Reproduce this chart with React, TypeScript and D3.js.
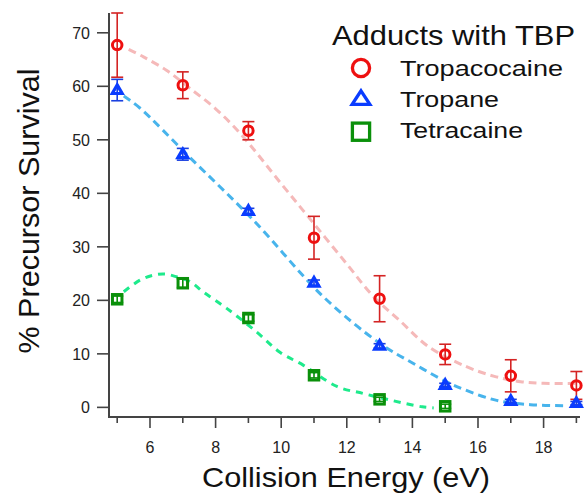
import React from "react";
import * as d3 from "d3";

const energies = [5, 7, 9, 11, 13, 15, 17, 19];
const tropacocaine = [67.7, 60.2, 51.7, 31.7, 20.3, 9.9, 5.9, 4.1];
const tropacocaineErr = [6.0, 2.5, 1.7, 4.0, 4.3, 1.9, 3.0, 2.6];
const tropane = [59.3, 47.3, 36.7, 23.3, 11.5, 4.2, 1.2, 0.8];
const tropaneErr = [2.0, 1.1, 0.5, 0.5, 0.4, 0.3, 0.3, 0.3];
const tetraEnergies = [5, 7, 9, 11, 13, 15];
const tetracaine = [20.2, 23.2, 16.7, 6.0, 1.5, 0.2];
const tetracaineErr = [0.6, 0.8, 0.6, 0.5, 0.4, 0.4];

// fitted curves
const fitTropacocaine: [number, number][] = [
  [5.35, 66.9], [5.8, 65.5], [6.5, 63.0], [7.2, 59.7], [8, 55.8], [8.75, 51.2],
  [10, 41.8], [11, 34.3], [12, 26.8], [12.8, 20.8], [13.6, 16.3], [14.5, 11.3],
  [15.65, 7.6], [16.5, 5.8], [17.3, 4.8], [18, 4.5], [19.1, 4.5],
];
const fitTropane: [number, number][] = [
  [5.2, 58.2], [5.7, 55.9], [7.2, 46.8], [9.15, 35.0], [11.28, 20.7], [13.0, 12.0],
  [14.03, 8.2], [15.0, 4.9], [15.55, 3.4], [16.57, 1.3], [17.6, 0.5], [18.7, 0.3],
];
const fitTetracaine: [number, number][] = [
  [5.2, 21.6], [5.7, 23.8], [6.1, 24.7], [6.46, 24.9], [6.81, 24.4], [7.22, 23.5],
  [7.62, 21.6], [8.34, 18.5], [9.25, 14.1], [9.96, 10.3], [10.67, 7.9], [11.7, 3.9],
  [12.5, 2.6], [13.3, 1.4], [14.3, 0.1], [14.65, -0.1],
];

const yTicks = [0, 10, 20, 30, 40, 50, 60, 70];
const xMajor = [6, 8, 10, 12, 14, 16, 18];
const xMinor = [5, 7, 9, 11, 13, 15, 17, 19];
const legendTitle = "Adducts with TBP";
const seriesNames = ["Tropacocaine", "Tropane", "Tetracaine"];

const RED = "#ee1010";
const BLUE = "#0a3cff";
const GREEN = "#0a900a";
const FONT = "'Liberation Sans', Arial, sans-serif";

function Marker({ kind, x, y, s, color, sw, hr = 0.85 }: { kind: string; x: number; y: number; s: number; color: string; sw: number; hr?: number }) {
  if (kind === "circle") {
    return <circle cx={x} cy={y} r={s / 2 - sw / 2} fill="none" stroke={color} strokeWidth={sw} />;
  }
  if (kind === "triangle") {
    const w = s - sw * 1.6;
    const h = s * hr - sw * 1.3;
    const p = [[x, y - h * 0.6], [x + w / 2, y + h * 0.4], [x - w / 2, y + h * 0.4]];
    return (
      <path d={`M${p[0].join(",")}L${p[1].join(",")}L${p[2].join(",")}Z`} fill="none" stroke={color}
        strokeWidth={sw} strokeLinejoin="miter" />
    );
  }
  const a = s - sw;
  return <rect x={x - a / 2} y={y - a / 2} width={a} height={a} fill="none" stroke={color} strokeWidth={sw} />;
}

export default function App() {
  const xs = d3.scaleLinear().domain([4.75, 19.11]).range([109, 580]);
  const ys = d3.scaleLinear().domain([-1.8, 73.7]).range([417, 13]);
  const line = d3.line<[number, number]>().x((d) => xs(d[0])).y((d) => ys(d[1])).curve(d3.curveCatmullRom);

  const series = [
    { name: seriesNames[0], xv: energies, yv: tropacocaine, ev: tropacocaineErr, kind: "circle", color: RED, err: "#d42424", fit: fitTropacocaine, fitColor: "#f5b9b9", dash: "8 5" },
    { name: seriesNames[1], xv: energies, yv: tropane, ev: tropaneErr, kind: "triangle", color: BLUE, err: "#1a40e0", fit: fitTropane, fitColor: "#48b4ec", dash: "8 5" },
    { name: seriesNames[2], xv: tetraEnergies, yv: tetracaine, ev: tetracaineErr, kind: "square", color: GREEN, err: GREEN, fit: fitTetracaine, fitColor: "#1eea8c", dash: "7 6" },
  ];

  return (
    <svg width={584} height={494} style={{ position: "absolute", left: 0, top: 0, background: "#fff" }}
      fontFamily={FONT}>
      {/* fits */}
      {series.map((s) => (
        <path key={s.name + "fit"} d={line(s.fit) || ""} fill="none" stroke={s.fitColor} strokeWidth={3}
          strokeDasharray={s.dash} />
      ))}
      {/* error bars and markers */}
      {series.map((s) => (
        <g key={s.name}>
          {s.xv.map((xv, i) => {
            const cx = xs(xv);
            const top = ys(s.yv[i] + s.ev[i]);
            const bot = ys(s.yv[i] - s.ev[i]);
            return (
              <g key={i}>
                <line x1={cx} x2={cx} y1={top} y2={bot} stroke={s.err} strokeWidth={1.6} />
                <line x1={cx - 6} x2={cx + 6} y1={top} y2={top} stroke={s.err} strokeWidth={1.6} />
                <line x1={cx - 6} x2={cx + 6} y1={bot} y2={bot} stroke={s.err} strokeWidth={1.6} />
                <Marker kind={s.kind} x={cx} y={ys(s.yv[i])} s={s.kind === "triangle" ? 15 : 12.5}
                  sw={s.kind === "triangle" ? 3.2 : 3} color={s.color} />
              </g>
            );
          })}
        </g>
      ))}
      {/* axes */}
      <line x1={109} x2={109} y1={13} y2={418} stroke="#444" strokeWidth={2} />
      <line x1={108} x2={580} y1={417} y2={417} stroke="#444" strokeWidth={2} />
      {yTicks.map((t) => (
        <g key={"y" + t}>
          <line x1={97} x2={109} y1={ys(t)} y2={ys(t)} stroke="#444" strokeWidth={1.6} />
          <text x={90} y={ys(t)} dy="0.36em" textAnchor="end" fontSize={16} fill="#222">{t}</text>
        </g>
      ))}
      {xMinor.map((t) => (
        <line key={"xm" + t} x1={xs(t)} x2={xs(t)} y1={417} y2={423} stroke="#444" strokeWidth={1.6} />
      ))}
      {xMajor.map((t) => (
        <g key={"x" + t}>
          <line x1={xs(t)} x2={xs(t)} y1={417} y2={428} stroke="#444" strokeWidth={1.6} />
          <text x={xs(t)} y={453} textAnchor="middle" fontSize={16} fill="#222">{t}</text>
        </g>
      ))}
      {/* axis titles */}
      <text x={346} y={487} textAnchor="middle" fontSize={28} fill="#111" textLength={288}
        lengthAdjust="spacingAndGlyphs">Collision Energy (eV)</text>
      <text transform="translate(39,211) rotate(-90)" textAnchor="middle" fontSize={29} fill="#111"
        textLength={285} lengthAdjust="spacingAndGlyphs">% Precursor Survival</text>
      {/* legend */}
      <text x={332} y={45} fontSize={28} fill="#111" textLength={243} lengthAdjust="spacingAndGlyphs">{legendTitle}</text>
      <Marker kind="circle" x={361} y={68} s={20.5} sw={3.3} color={RED} />
      <Marker kind="triangle" x={361} y={99} s={23} hr={0.78} sw={3.3} color={BLUE} />
      <Marker kind="square" x={361} y={131.7} s={20.5} sw={3.3} color={GREEN} />
      <text x={400} y={76} fontSize={22.5} fill="#111" textLength={163} lengthAdjust="spacingAndGlyphs">{seriesNames[0]}</text>
      <text x={400} y={107} fontSize={22.5} fill="#111" textLength={99} lengthAdjust="spacingAndGlyphs">{seriesNames[1]}</text>
      <text x={400} y={138} fontSize={22.5} fill="#111" textLength={123} lengthAdjust="spacingAndGlyphs">{seriesNames[2]}</text>
    </svg>
  );
}
